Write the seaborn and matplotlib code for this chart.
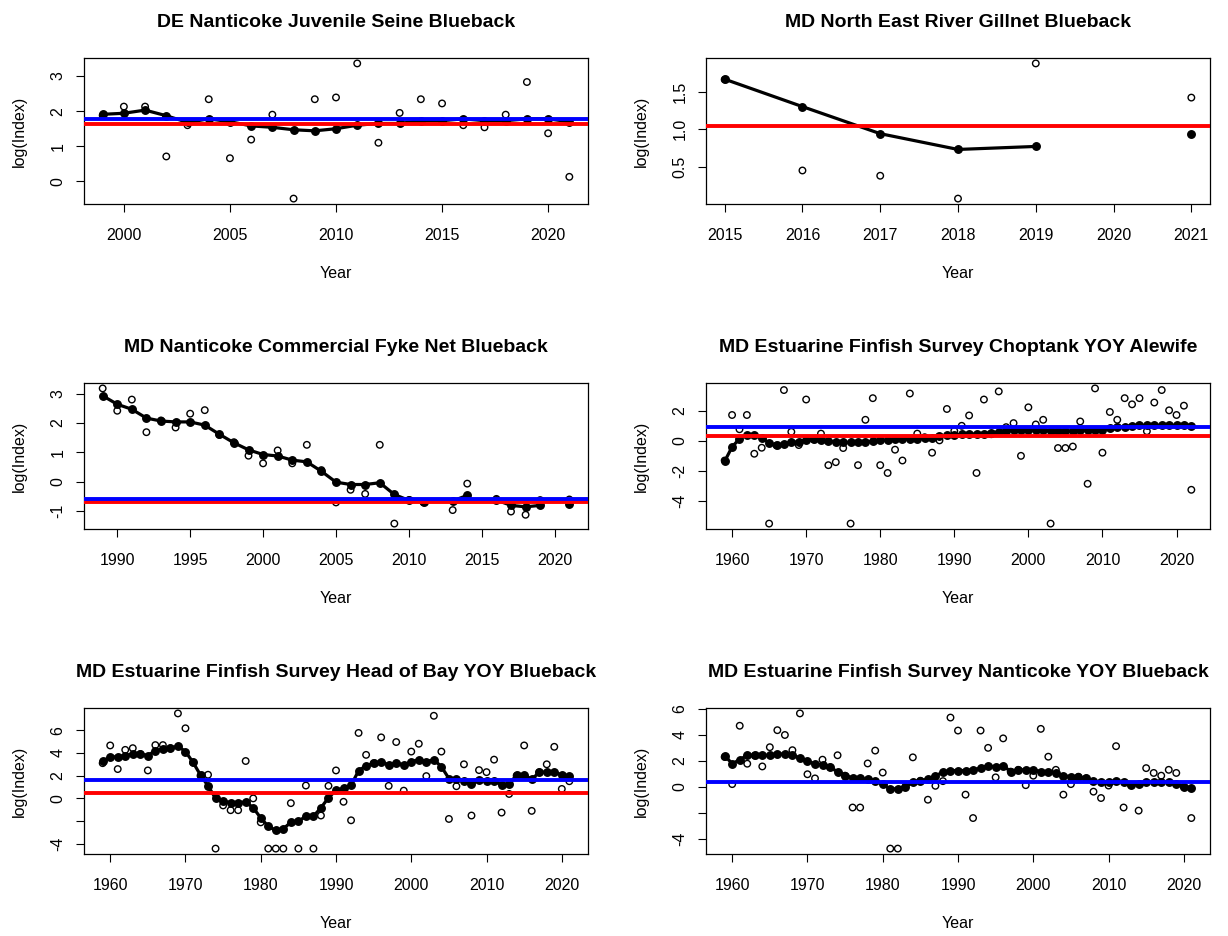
import numpy as np
import matplotlib
matplotlib.use("Agg")
import matplotlib.pyplot as plt
import seaborn as sns

nan = np.nan

# ---- panel 1
p1_title = "DE Nanticoke Juvenile Seine Blueback"
p1_years = list(range(1999, 2022))
p1_obs = [1.88, 2.13, 2.13, 0.71, 1.60, 2.34, 0.66, 1.19, 1.90, -0.49, 2.34, 2.39,
          3.36, 1.10, 1.95, 2.34, 2.22, 1.60, 1.54, 1.90, 2.83, 1.37, 0.13]
p1_fit = [1.91, 1.94, 2.03, 1.87, 1.68, 1.78, 1.70, 1.58, 1.54, 1.47, 1.44, 1.50,
          1.60, 1.65, 1.65, 1.73, 1.73, 1.78, 1.73, 1.73, 1.78, 1.78, 1.70]
p1_blue = 1.77
p1_red = 1.63
p1_xticks = [2000, 2005, 2010, 2015, 2020]
p1_yticks = [0, 1, 2, 3]
p1_ylabels = ["0", "1", "2", "3"]

# ---- panel 2
p2_title = "MD North East River Gillnet Blueback"
p2_years = list(range(2015, 2022))
p2_obs = [1.66, 0.45, 0.38, 0.076, 1.875, nan, 1.42]
p2_fit = [1.665, 1.30, 0.94, 0.73, 0.77, nan, 0.93]
p2_blue = None
p2_red = 1.045
p2_xticks = [2015, 2016, 2017, 2018, 2019, 2020, 2021]
p2_yticks = [0.5, 1.0, 1.5]
p2_ylabels = ["0.5", "1.0", "1.5"]

# ---- panel 3
p3_title = "MD Nanticoke Commercial Fyke Net Blueback"
p3_years = list(range(1989, 2022))
p3_obs = [3.18, 2.42, 2.80, 1.69, 2.09, 1.85, 2.32, 2.44, 1.60, 1.35, 0.89, 0.63,
          1.07, 0.63, 1.26, 0.40, -0.70, -0.27, -0.41, 1.26, -1.42, -0.62, -0.70,
          nan, -0.96, -0.06, nan, -0.58, -1.01, -1.12, -0.62, nan, -0.60]
p3_fit = [2.93, 2.64, 2.47, 2.17, 2.07, 2.04, 2.04, 1.93, 1.62, 1.33, 1.09, 0.93,
          0.88, 0.74, 0.68, 0.36, -0.01, -0.09, -0.09, -0.03, -0.43, -0.63, -0.68,
          nan, -0.65, -0.46, nan, -0.62, -0.80, -0.85, -0.80, nan, -0.75]
p3_blue = -0.59
p3_red = -0.67
p3_xticks = [1990, 1995, 2000, 2005, 2010, 2015, 2020]
p3_yticks = [-1, 0, 1, 2, 3]
p3_ylabels = ["-1", "0", "1", "2", "3"]

# ---- panel 4
p4_title = "MD Estuarine Finfish Survey Choptank YOY Alewife"
p4_years = list(range(1959, 2023))
p4_obs = [-1.30, 1.73, 0.78, 1.73, -0.85, -0.45, -5.50, -0.30, 3.39, 0.61,
          -0.27, 2.76, 0.10, 0.49, -1.61, -1.41, -0.47, -5.50, -1.61, 1.41,
          2.85, -1.61, -2.13, -0.58, -1.30, 3.16, 0.49, 0.25, -0.78, 0.04,
          2.13, 0.67, 1.01, 1.70, -2.13, 2.76, 0.45, 3.30, 0.92, 1.19,
          -0.99, 2.24, 1.10, 1.41, -5.50, -0.47, -0.47, -0.37, 1.30, -2.85,
          3.50, -0.78, 1.93, 1.41, 2.85, 2.44, 2.85, 0.65, 2.56, 3.39,
          2.04, 1.73, 2.35, -3.25]
p4_fit = [-1.35, -0.40, 0.15, 0.42, 0.42, 0.22, -0.14, -0.30, -0.22, -0.09,
          -0.05, 0.05, 0.10, 0.08, 0.02, -0.07, -0.10, -0.10, -0.10, -0.07,
          -0.02, 0.05, 0.08, 0.10, 0.12, 0.14, 0.16, 0.18, 0.22, 0.30,
          0.38, 0.40, 0.44, 0.46, 0.46, 0.48, 0.55, 0.62, 0.68, 0.70,
          0.70, 0.70, 0.70, 0.70, 0.68, 0.66, 0.66, 0.68, 0.70, 0.70,
          0.72, 0.75, 0.88, 0.90, 0.94, 1.02, 1.04, 1.04, 1.04, 1.04,
          1.04, 1.04, 1.04, 1.02]
p4_blue = 0.91
p4_red = 0.36
p4_xticks = [1960, 1970, 1980, 1990, 2000, 2010, 2020]
p4_yticks = [-4, -2, 0, 2]
p4_ylabels = ["-4", "-2", "0", "2"]

# ---- panel 5
p5_title = "MD Estuarine Finfish Survey Head of Bay YOY Blueback"
p5_years = list(range(1959, 2022))
p5_obs = [3.10, 4.66, 2.58, 4.27, 4.42, 3.90, 2.46, 4.69, 4.69, 4.40,
          7.48, 6.17, 3.15, 2.00, 2.08, -4.42, -0.62, -1.04, -1.04, 3.29,
          0.00, -2.11, -4.42, -4.42, -4.42, -0.42, -4.42, 1.13, -4.42, -1.51,
          1.10, 2.46, -0.30, -1.93, 5.76, 3.83, 3.10, 5.37, 1.10, 4.96,
          0.68, 4.12, 4.81, 1.96, 7.27, 4.12, -1.81, 1.07, 3.00, -1.51,
          2.49, 2.31, 3.41, -1.25, 0.39, 2.00, 4.66, -1.10, 2.30, 3.00,
          4.54, 0.83, 1.51]
p5_fit = [3.30, 3.62, 3.68, 3.77, 3.92, 3.92, 3.77, 4.21, 4.36, 4.42,
          4.60, 4.12, 3.18, 2.05, 1.10, 0.00, -0.24, -0.39, -0.39, -0.30,
          -0.83, -1.72, -2.46, -2.82, -2.67, -2.11, -2.02, -1.57, -1.57, -0.83,
          0.06, 0.71, 0.89, 1.16, 2.43, 2.88, 3.09, 3.23, 2.94, 3.12,
          2.94, 3.23, 3.41, 3.23, 3.41, 2.79, 1.75, 1.69, 1.57, 1.25,
          1.60, 1.54, 1.54, 1.19, 1.28, 2.05, 2.05, 1.69, 2.28, 2.34,
          2.28, 2.08, 1.93]
p5_blue = 1.63
p5_red = 0.45
p5_xticks = [1960, 1970, 1980, 1990, 2000, 2010, 2020]
p5_yticks = [-4, -2, 0, 2, 4, 6]
p5_ylabels = ["-4", "", "0", "2", "4", "6"]

# ---- panel 6
p6_title = "MD Estuarine Finfish Survey Nanticoke YOY Blueback"
p6_years = list(range(1959, 2022))
p6_obs = [2.30, 0.21, 4.70, 1.78, 2.40, 1.57, 3.05, 4.36, 3.99, 2.82,
          5.65, 0.97, 0.65, 2.09, 1.50, 2.43, 0.86, -1.59, -1.59, 1.80,
          2.79, 1.10, -4.75, -4.75, 0.00, 2.27, 0.47, -0.99, 0.08, 0.44,
          5.33, 4.33, -0.60, -2.40, 4.33, 3.00, 0.73, 3.73, 1.17, 1.31,
          0.13, 0.86, 4.46, 2.32, 1.31, -0.60, 0.21, 0.78, 0.65, -0.37,
          -0.86, 0.10, 3.13, -1.59, 0.13, -1.83, 1.44, 1.07, 0.86, 1.31,
          1.07, 0.00, -2.40]
p6_fit = [2.40, 1.78, 2.09, 2.43, 2.43, 2.43, 2.43, 2.53, 2.53, 2.43,
          2.22, 1.96, 1.78, 1.70, 1.49, 1.17, 0.86, 0.70, 0.65, 0.57,
          0.47, 0.21, -0.18, -0.13, 0.00, 0.34, 0.47, 0.60, 0.86, 1.12,
          1.25, 1.25, 1.25, 1.31, 1.44, 1.64, 1.51, 1.64, 1.17, 1.31,
          1.31, 1.31, 1.17, 1.17, 1.04, 0.86, 0.78, 0.78, 0.65, 0.44,
          0.39, 0.34, 0.47, 0.39, 0.13, 0.21, 0.39, 0.34, 0.34, 0.39,
          0.21, 0.00, -0.08]
p6_blue = 0.37
p6_red = None
p6_xticks = [1960, 1970, 1980, 1990, 2000, 2010, 2020]
p6_yticks = [-4, -2, 0, 2, 4, 6]
p6_ylabels = ["-4", "", "0", "2", "4", "6"]

panels = [
    (p1_title, p1_years, p1_obs, p1_fit, p1_blue, p1_red, p1_xticks, p1_yticks, p1_ylabels),
    (p2_title, p2_years, p2_obs, p2_fit, p2_blue, p2_red, p2_xticks, p2_yticks, p2_ylabels),
    (p3_title, p3_years, p3_obs, p3_fit, p3_blue, p3_red, p3_xticks, p3_yticks, p3_ylabels),
    (p4_title, p4_years, p4_obs, p4_fit, p4_blue, p4_red, p4_xticks, p4_yticks, p4_ylabels),
    (p5_title, p5_years, p5_obs, p5_fit, p5_blue, p5_red, p5_xticks, p5_yticks, p5_ylabels),
    (p6_title, p6_years, p6_obs, p6_fit, p6_blue, p6_red, p6_xticks, p6_yticks, p6_ylabels),
]

sns.set_style("ticks")
plt.rcParams["font.family"] = ["Liberation Sans", "DejaVu Sans"]
plt.rcParams["text.color"] = "black"
plt.rcParams["axes.labelcolor"] = "black"


def r_range(vals):
    # R style axis range: data range plus 4% on each side
    lo, hi = np.nanmin(vals), np.nanmax(vals)
    pad = 0.04 * (hi - lo)
    return lo - pad, hi + pad


fig = plt.figure(figsize=(12.28, 9.36), dpi=100)
W, H = 1228, 936
lefts = [84, 706]
tops = [58, 383, 708]
bw, bh = 504, 146

for i, (title, years, obs, fit, blue, red, xticks, yticks, ylabels) in enumerate(panels):
    row, col = divmod(i, 2)
    ax = fig.add_axes([lefts[col] / W, (H - tops[row] - bh) / H, bw / W, bh / H])

    sns.scatterplot(x=years, y=obs, ax=ax, marker="o", s=22, facecolors="none",
                    edgecolor="black", linewidth=1.0, zorder=2)
    ax.plot(years, fit, color="black", lw=2.3, marker="o", ms=5.4, zorder=3)
    if red is not None:
        ax.axhline(red, color="red", lw=2.8, zorder=4)
    if blue is not None:
        ax.axhline(blue, color="blue", lw=2.8, zorder=5)

    ax.set_xticks(xticks)
    ax.set_xticklabels([str(t) for t in xticks])
    ax.set_yticks(yticks)
    ax.set_yticklabels(ylabels, rotation=90, va="center")
    ax.set_xlim(*r_range(years))
    ax.set_ylim(*r_range(np.concatenate([np.array(obs, float), np.array(fit, float)])))

    ax.set_title(title, fontsize=14, fontweight="bold", pad=22)
    ax.set_xlabel("Year", fontsize=11.5, labelpad=16)
    ax.set_ylabel("log(Index)", fontsize=11.5, labelpad=17)

    ax.tick_params(axis="both", direction="out", length=5.5, width=0.8,
                   labelsize=11.5, colors="black")
    ax.tick_params(axis="x", pad=12)
    ax.tick_params(axis="y", pad=8)
    for sp in ax.spines.values():
        sp.set_visible(True)
        sp.set_color("black")
        sp.set_linewidth(0.9)

fig.savefig("out.png", dpi=100, facecolor="white")
